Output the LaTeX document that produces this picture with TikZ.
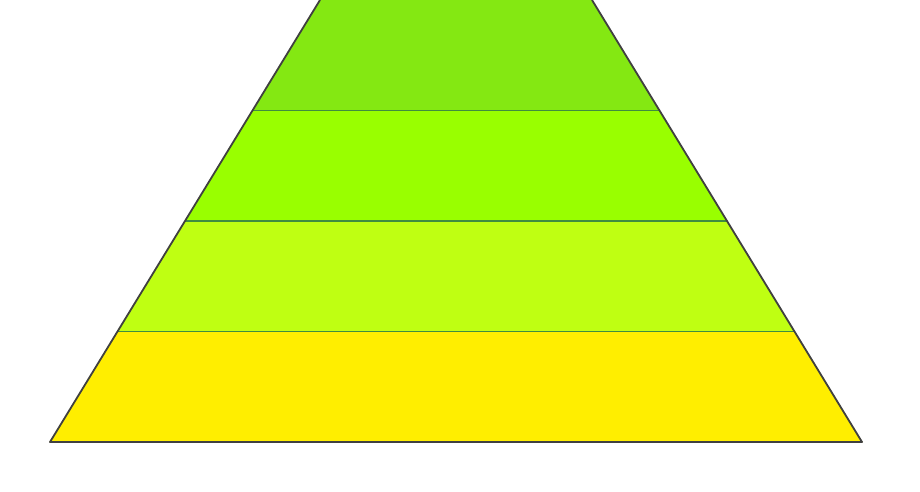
\documentclass[tikz,border=0pt]{standalone}
\begin{document}
\begin{tikzpicture}[x=1pt, y=-1pt]

        % --- STYLES ---
        \tikzstyle{band} = [draw=black!40!green!50!gray, line width=1.3pt]
        \tikzstyle{outline} = [draw=black!75, line width=1.8pt, line join=round]

        % --- COLOURS ---
        \definecolor{bandA}{HTML}{84E812}
        \definecolor{bandB}{HTML}{99FF00}
        \definecolor{bandC}{HTML}{BFFF12}
        \definecolor{bandD}{HTML}{FFEE00}

        % --- DEFINITIONS ---
        \def\bandH{110.5} % height of one band (px)
        \def\slope{0.612} % horizontal shift per px of height

        % --- BOUNDING BOX ---
        \useasboundingbox (0,0) rectangle (920,492);

        % --- CORNERS ---
        \coordinate (tl) at (320,0);
        \coordinate (tr) at (592,0);
        \coordinate (bl) at (50,442);
        \coordinate (br) at (862,442);

        % --- BANDS (top to bottom) ---
        \foreach \i/\col in {0/bandA, 1/bandB, 2/bandC, 3/bandD} {
            \pgfmathsetmacro{\yA}{\i*\bandH}
            \pgfmathsetmacro{\yB}{(\i+1)*\bandH}
            \fill[\col] (320-\slope*\yA, \yA) -- (592+\slope*\yA, \yA)
                -- (592+\slope*\yB, \yB) -- (320-\slope*\yB, \yB) -- cycle;
        }

        % --- SEPARATORS ---
        \foreach \i in {1,2,3} {
            \pgfmathsetmacro{\yS}{\i*\bandH}
            \draw[band] (320-\slope*\yS, \yS) -- (592+\slope*\yS, \yS);
        }

        % --- OUTLINE ---
        \draw[outline] (tl) -- (bl) -- (br) -- (tr);

    \end{tikzpicture}
\end{document}
